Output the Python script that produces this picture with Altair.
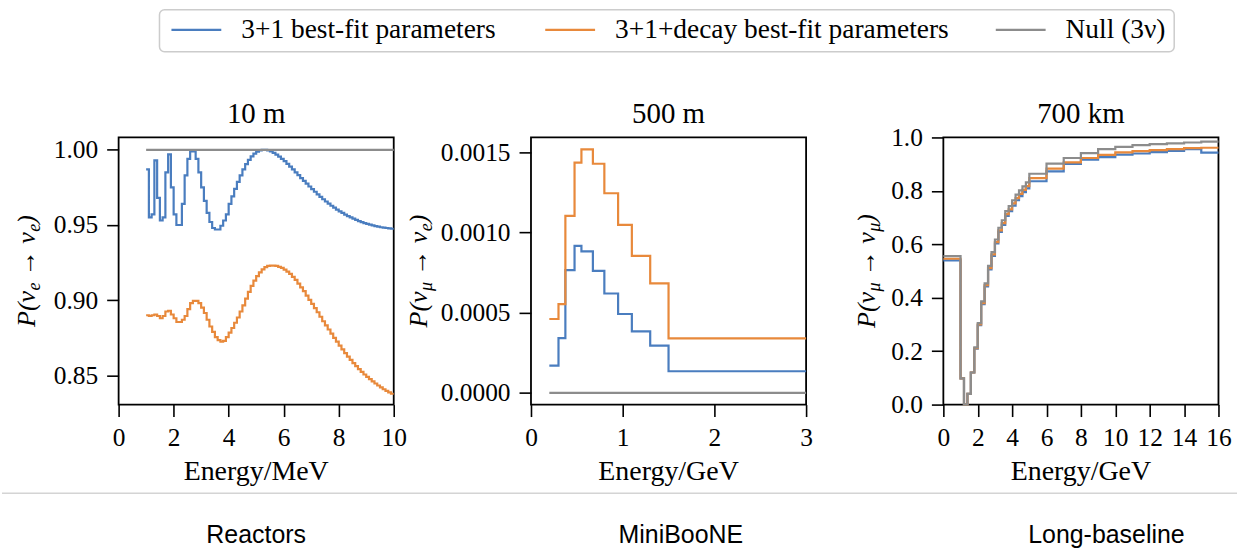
import altair as alt
import pandas as pd

# ---------------- data ----------------
SERIES = ["3+1 best-fit parameters", "3+1+decay best-fit parameters", "Null (3ν)"]
COLORS = ["#4a7dbf", "#e8893b", "#8c8c8c"]

# Reactors, L = 10 m (0.1 MeV bins from 1 to 10 MeV)
REACTOR_EDGES = [round(1.0 + 0.1 * i, 1) for i in range(91)]
REACTOR_31 = [
    0.987, 0.955, 0.957, 0.993, 0.968, 0.953, 0.955, 0.985, 0.997, 0.975,
    0.957, 0.950, 0.950, 0.964, 0.983, 0.994, 0.999, 0.999, 0.994, 0.985,
    0.975, 0.966, 0.958, 0.952, 0.948, 0.947, 0.947, 0.9495, 0.953, 0.957,
    0.964, 0.969, 0.974, 0.9787, 0.983, 0.987, 0.9904, 0.9933, 0.9956, 0.9974,
    0.9987, 0.9996, 1.0, 1.0, 0.9996, 0.9989, 0.998, 0.9968, 0.9955, 0.994,
    0.9924, 0.9906, 0.9888, 0.987, 0.985, 0.9831, 0.9812, 0.9793, 0.9775, 0.9756,
    0.9738, 0.9721, 0.9704, 0.9687, 0.9671, 0.9656, 0.9642, 0.9628, 0.9615, 0.9602,
    0.9591, 0.958, 0.9569, 0.9559, 0.955, 0.9542, 0.9534, 0.9526, 0.9519, 0.9513,
    0.9508, 0.9502, 0.9497, 0.9493, 0.9489, 0.9485, 0.9483, 0.948, 0.9477, 0.9475,
]
REACTOR_DECAY = [
    0.890, 0.8895, 0.890, 0.8905, 0.8895, 0.888, 0.8895, 0.8925, 0.893, 0.8905,
    0.888, 0.8855, 0.8855, 0.887, 0.8895, 0.894, 0.898, 0.8995, 0.8995, 0.898,
    0.895, 0.8915, 0.887, 0.8825, 0.879, 0.8755, 0.8735, 0.8725, 0.873, 0.8755,
    0.8785, 0.8815, 0.885, 0.8885, 0.8925, 0.8965, 0.901, 0.9055, 0.9095, 0.913,
    0.916, 0.9185, 0.9205, 0.922, 0.9228, 0.923, 0.923, 0.9228, 0.9222, 0.9215,
    0.9203, 0.919, 0.9175, 0.9155, 0.9135, 0.911, 0.9085, 0.906, 0.903, 0.9002,
    0.8975, 0.8947, 0.892, 0.889, 0.886, 0.8832, 0.8805, 0.8778, 0.875, 0.8724,
    0.8698, 0.8673, 0.8648, 0.8625, 0.8603, 0.8582, 0.8562, 0.8542, 0.8524, 0.8506,
    0.849, 0.8475, 0.846, 0.8446, 0.8433, 0.842, 0.8408, 0.8397, 0.8387, 0.8378,
]
REACTOR_NULL = [1.0] * 90

# MiniBooNE, L = 500 m
MB_EDGES = [0.2, 0.3, 0.375, 0.475, 0.55, 0.675, 0.8, 0.95, 1.1, 1.3, 1.5, 3.0]
MB_31 = [0.000170, 0.000342, 0.000766, 0.000917, 0.000882, 0.000761,
         0.000620, 0.000492, 0.000384, 0.000295, 0.000135]
MB_DECAY = [0.000461, 0.000554, 0.001104, 0.001436, 0.001519, 0.001429,
            0.001245, 0.001048, 0.000855, 0.000683, 0.000340]
MB_NULL = [0.0] * 11

# Long-baseline, L = 700 km
LB_EDGES = [0, 1.0, 1.2, 1.4, 1.6, 1.8, 2.0, 2.2, 2.4, 2.6, 2.8, 3.0, 3.2, 3.4, 3.6,
            3.8, 4.0, 4.2, 4.4, 4.6, 4.8, 5.0, 6, 7, 8, 9, 10, 11, 12, 13, 14, 15, 16]
LB_31 = [0.540, 0.098, 0.0, 0.04, 0.12, 0.209, 0.297, 0.376, 0.442, 0.506, 0.557,
         0.603, 0.646, 0.673, 0.706, 0.724, 0.745, 0.765, 0.780, 0.795, 0.809,
         0.836, 0.873, 0.9005, 0.9167, 0.9266, 0.9354, 0.940, 0.945, 0.950, 0.9565, 0.943]
LB_DECAY = [0.546, 0.098, 0.0, 0.04, 0.12, 0.211, 0.300, 0.380, 0.447, 0.511, 0.562,
            0.608, 0.652, 0.679, 0.713, 0.731, 0.753, 0.773, 0.789, 0.804, 0.818,
            0.848, 0.883, 0.907, 0.923, 0.935, 0.944, 0.949, 0.9527, 0.956, 0.960, 0.9615]
LB_NULL = [0.556, 0.098, 0.0, 0.04, 0.12, 0.214, 0.305, 0.386, 0.454, 0.519, 0.571,
           0.618, 0.662, 0.690, 0.724, 0.743, 0.765, 0.786, 0.802, 0.817, 0.832,
           0.864, 0.902, 0.923, 0.9415, 0.9565, 0.965, 0.971, 0.975, 0.9775, 0.981, 0.984]

PANEL_TITLES = ["10 m", "500 m", "700 km"]
X_TITLES = ["Energy/MeV", "Energy/GeV", "Energy/GeV"]
BOTTOM_LABELS = ["Reactors", "MiniBooNE", "Long-baseline"]

# ---------------- styling ----------------
SERIF = "Liberation Serif"
SANS = "Liberation Sans"
W, H = 276, 268
cscale = alt.Scale(domain=SERIES, range=COLORS)


def step_frame(edges, series_values):
    rows = []
    for name, vals in zip(SERIES, series_values):
        for e, v in zip(edges[:-1], vals):
            rows.append({"E": e, "P": v, "series": name})
        rows.append({"E": edges[-1], "P": vals[-1], "series": name})
    return pd.DataFrame(rows)


def text_mark(txt, x, y, size, font=SERIF, align="center", baseline="alphabetic",
              angle=0, style="normal", color="black"):
    return alt.Chart(pd.DataFrame({"t": [txt]})).mark_text(
        font=font, fontSize=size, align=align, baseline=baseline, angle=angle,
        fontStyle=style, color=color,
    ).encode(x=alt.value(x), y=alt.value(y), text="t:N")


EM = {"P": 0.611, "(": 0.333, ")": 0.333, "ν": 0.46, " ": 0.25, "→": 1.0,
      "e": 0.444, "μ": 0.5}


def est_width(s, size):
    return sum(EM.get(c, 0.5) for c in s) * size


def y_title(sub1, sub2, base_x, size=26, sub_size=18):
    pieces = [("P(ν", False), (sub1, True), ("GAP", None), ("→ ν", False),
              (sub2, True), (")", False)]
    total = 0
    for t, sub in pieces:
        if sub is None:
            total += 0.25 * size
        else:
            total += est_width(t, sub_size if sub else size)
    y_cur = H / 2 + total / 2
    layers = []
    for t, sub in pieces:
        if sub is None:
            y_cur -= 0.25 * size
            continue
        sz = sub_size if sub else size
        layers.append(text_mark(t, base_x + (5 if sub else 0), y_cur, sz, align="left",
                                angle=270, style="italic"))
        y_cur -= est_width(t, sz)
    return layers


def panel(df, xdom, ydom, xvals, yvals, yfmt, title, xtitle, ylayers, extra=None):
    x = alt.X("E:Q", scale=alt.Scale(domain=xdom, nice=False, zero=False),
              axis=alt.Axis(values=xvals, format="d", title=None))
    y = alt.Y("P:Q", scale=alt.Scale(domain=ydom, nice=False, zero=False),
              axis=alt.Axis(values=yvals, format=yfmt, title=None))
    layers = list(extra or [])
    for s in SERIES:
        layers.append(
            alt.Chart(df).transform_filter(alt.datum.series == s)
            .mark_line(interpolate="step-after", strokeWidth=2.2)
            .encode(x=x, y=y, color=alt.Color("series:N", scale=cscale, legend=None))
        )
    layers.append(text_mark(title, W / 2, -14, 29))
    layers.append(text_mark(xtitle, W / 2, 344, 28))
    layers.extend(ylayers)
    return alt.layer(*layers).properties(width=W, height=H)


# page-level decorations drawn in the first panel's frame (origin = 117, 136)
OX, OY = 117, 136
frame_rect = alt.Chart(pd.DataFrame({"a": [0]})).mark_rect(opacity=0).encode(
    x=alt.value(-OX), x2=alt.value(1239 - OX), y=alt.value(-OY), y2=alt.value(549 - OY))
legend_box = alt.Chart(pd.DataFrame({"a": [0]})).mark_rect(
    fill="white", stroke="#cccccc", strokeWidth=1.5, cornerRadius=5).encode(
    x=alt.value(158 - OX), x2=alt.value(1176 - OX), y=alt.value(8 - OY), y2=alt.value(50 - OY))
legend_layers = [frame_rect, legend_box]
for name, col, sx, tx in zip(SERIES, COLORS, [170, 545, 997], [240, 615, 1067]):
    legend_layers.append(
        alt.Chart(pd.DataFrame({"a": [0]})).mark_rule(color=col, strokeWidth=2.2).encode(
            x=alt.value(sx - OX), x2=alt.value(sx + 50 - OX), y=alt.value(28 - OY)))
    legend_layers.append(text_mark(name, tx - OX, 28 - OY, 27.5, align="left", baseline="middle"))
legend_layers.append(
    alt.Chart(pd.DataFrame({"a": [0]})).mark_rule(color="#d4d4d4", strokeWidth=1.5).encode(
        x=alt.value(-OX), x2=alt.value(1239 - OX), y=alt.value(493 - OY)))
for lab, cx in zip(BOTTOM_LABELS, [255, 681, 1108]):
    legend_layers.append(text_mark(lab, cx - OX, 543 - OY, 25, font=SANS))

p1 = panel(step_frame(REACTOR_EDGES, [REACTOR_31, REACTOR_DECAY, REACTOR_NULL]),
           [0, 10], [0.8306, 1.0082], [0, 2, 4, 6, 8, 10], [0.85, 0.90, 0.95, 1.00], ".2f",
           PANEL_TITLES[0], X_TITLES[0], y_title("e", "e", -84), extra=legend_layers)
p2 = panel(step_frame(MB_EDGES, [MB_31, MB_DECAY, MB_NULL]),
           [0, 3], [-0.0000728, 0.001593], [0, 1, 2, 3], [0.0, 0.0005, 0.0010, 0.0015], ".4f",
           PANEL_TITLES[1], X_TITLES[1], y_title("μ", "e", -104))
p3 = panel(step_frame(LB_EDGES, [LB_31, LB_DECAY, LB_NULL]),
           [0, 16], [0, 1], [0, 2, 4, 6, 8, 10, 12, 14, 16], [0, 0.2, 0.4, 0.6, 0.8, 1.0], ".1f",
           PANEL_TITLES[2], X_TITLES[2], y_title("μ", "μ", -69))

chart = alt.hconcat(p1, p2, p3, spacing=137.7, bounds="flush").properties(
    padding=0, background="white"
).configure_view(
    stroke="black", strokeWidth=1.8
).configure_axis(
    grid=False, domain=False, ticks=True, tickColor="black", tickWidth=1.6, tickSize=12,
    labelFont=SERIF, labelFontSize=25.5, labelColor="black", labelPadding=9,
    labelOverlap=False, labelFlush=False,
)

chart.save("out.html", embed_options={"renderer": "svg", "actions": False})
